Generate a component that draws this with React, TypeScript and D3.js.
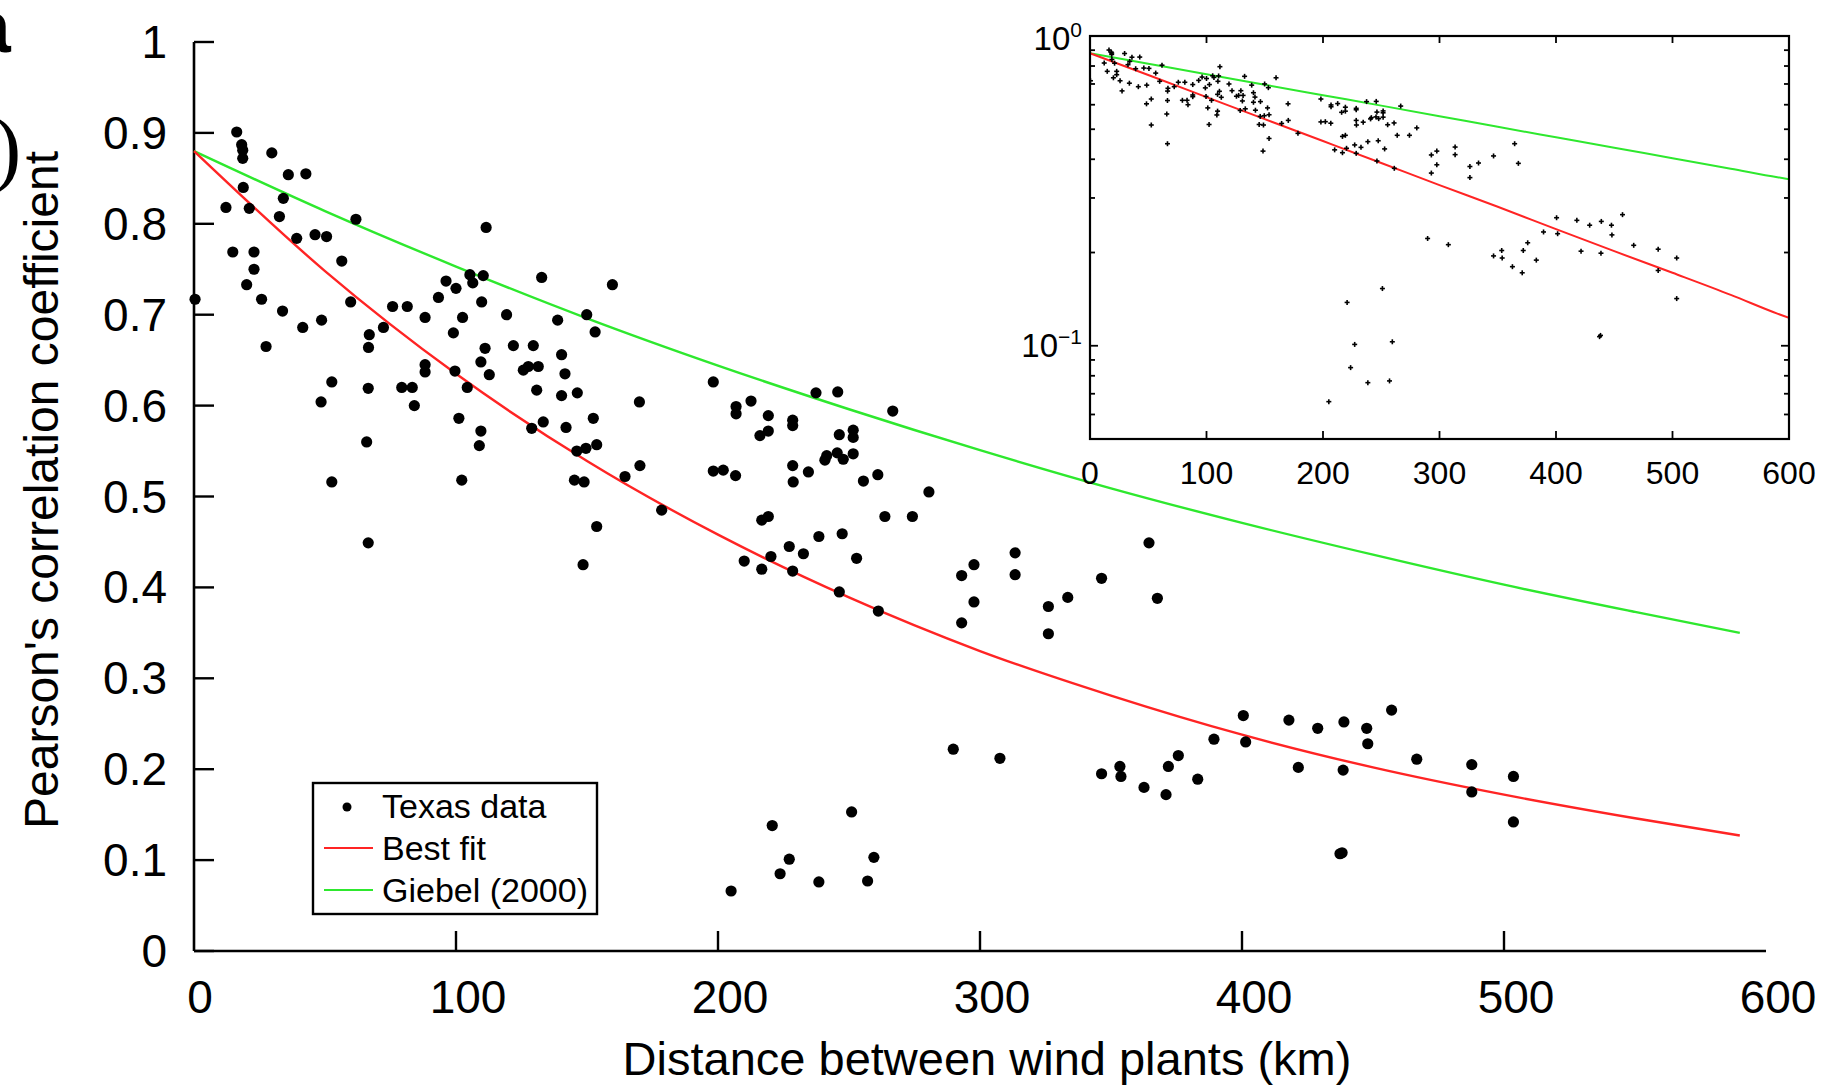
import React from 'react';
import * as d3 from 'd3';

// Texas data: [distance between wind plants (km), Pearson's correlation coefficient]
const texasNear: [number, number][] = [
  [16.3, 0.901], [18.2, 0.887], [18.6, 0.881], [18.6, 0.872], [29.7, 0.878], [36.0, 0.854], [42.7, 0.855],
  [18.8, 0.840], [34.1, 0.828], [12.2, 0.818], [21.1, 0.817], [32.6, 0.808], [61.8, 0.805], [39.2, 0.784],
  [46.2, 0.788], [50.6, 0.786], [14.8, 0.769], [22.9, 0.769], [22.9, 0.750], [20.1, 0.733], [56.4, 0.759],
  [25.8, 0.717], [0.4, 0.717], [33.8, 0.704], [41.5, 0.686], [48.7, 0.694], [27.5, 0.665], [59.8, 0.714],
  [72.3, 0.686], [66.9, 0.678], [66.6, 0.664], [75.8, 0.709], [81.4, 0.709], [88.2, 0.697], [93.3, 0.719],
  [96.2, 0.737], [100.0, 0.729], [105.3, 0.744], [106.4, 0.735], [110.4, 0.743], [111.5, 0.796], [102.5, 0.697],
  [109.8, 0.714], [119.3, 0.700], [132.7, 0.741], [138.8, 0.694], [149.9, 0.700], [153.1, 0.681], [159.7, 0.733],
  [99.0, 0.680], [111.1, 0.663], [121.9, 0.666], [129.5, 0.666], [109.5, 0.648], [140.3, 0.656], [112.7, 0.634],
  [125.7, 0.639], [131.4, 0.643], [127.6, 0.643], [141.6, 0.635], [88.2, 0.645], [88.2, 0.637], [99.6, 0.638],
  [130.8, 0.617], [140.3, 0.611], [146.3, 0.614], [104.3, 0.620], [79.3, 0.620], [83.3, 0.620], [66.5, 0.619],
  [52.6, 0.626], [84.1, 0.600], [48.5, 0.604], [152.4, 0.586], [128.9, 0.575], [133.3, 0.582], [142.0, 0.576],
  [101.1, 0.586], [109.5, 0.572], [108.9, 0.556], [146.1, 0.550], [149.6, 0.553], [153.7, 0.557], [164.5, 0.522],
  [145.2, 0.518], [148.9, 0.516], [102.2, 0.518], [65.9, 0.560], [52.6, 0.516], [66.5, 0.449], [153.7, 0.467],
  [148.5, 0.425],
];

const texasMid: [number, number][] = [
  [170.0, 0.604], [198.2, 0.626], [206.9, 0.599], [206.9, 0.591], [212.6, 0.605], [219.2, 0.589], [219.2, 0.572],
  [216.0, 0.567], [228.5, 0.584], [228.5, 0.578], [237.4, 0.614], [245.7, 0.615], [266.7, 0.594], [246.3, 0.568],
  [251.6, 0.573], [251.6, 0.565], [241.5, 0.545], [240.8, 0.540], [245.5, 0.548], [247.8, 0.541], [251.6, 0.547],
  [170.2, 0.534], [198.2, 0.528], [202.0, 0.529], [206.7, 0.523], [228.5, 0.534], [228.7, 0.516], [234.5, 0.527],
  [255.5, 0.517], [261.0, 0.524], [280.5, 0.505], [178.5, 0.485], [216.7, 0.474], [219.2, 0.478], [263.7, 0.478],
  [274.2, 0.478], [238.5, 0.456], [247.4, 0.459], [227.2, 0.445], [232.6, 0.437], [220.2, 0.434], [210.0, 0.429],
  [216.7, 0.420], [228.5, 0.418], [252.9, 0.432], [246.3, 0.395], [261.2, 0.374], [313.4, 0.438], [297.7, 0.425],
  [293.0, 0.413], [313.4, 0.414], [297.7, 0.384], [293.0, 0.361], [326.1, 0.379], [326.1, 0.349], [289.8, 0.222],
  [307.6, 0.212], [251.0, 0.153], [220.7, 0.138], [227.2, 0.101], [223.7, 0.085], [259.5, 0.103], [238.5, 0.076],
  [257.1, 0.077], [205.0, 0.066],
];

const texasFar: [number, number][] = [
  [333.5, 0.389], [346.4, 0.410], [364.5, 0.449], [367.7, 0.388], [346.4, 0.195], [353.4, 0.203], [353.8, 0.192],
  [362.6, 0.180], [371.0, 0.172], [371.9, 0.203], [375.7, 0.215], [383.1, 0.189], [389.3, 0.233], [400.5, 0.259],
  [401.4, 0.230], [417.9, 0.254], [421.5, 0.202], [428.9, 0.245], [438.9, 0.252], [438.6, 0.199], [447.6, 0.245],
  [448.0, 0.228], [457.1, 0.265], [437.4, 0.107], [438.2, 0.108], [466.7, 0.211], [487.7, 0.205], [487.7, 0.175],
  [503.6, 0.192], [503.6, 0.142],
];

// Curves
const bestFit: [number, number][] = [
  [0, 0.880], [50, 0.748], [100, 0.635], [150, 0.539], [200, 0.458], [250, 0.389], [300, 0.330],
  [350, 0.281], [400, 0.238], [450, 0.202], [500, 0.172], [550, 0.146], [590, 0.127], [600, 0.123],
];
const giebel: [number, number][] = [
  [0, 0.880], [50, 0.814], [100, 0.753], [150, 0.696], [200, 0.644], [250, 0.596], [300, 0.551],
  [350, 0.509], [400, 0.471], [450, 0.436], [500, 0.403], [550, 0.373], [590, 0.350], [600, 0.345],
];

const yTickValues = [0, 0.1, 0.2, 0.3, 0.4, 0.5, 0.6, 0.7, 0.8, 0.9, 1];
const xTickValues = [0, 100, 200, 300, 400, 500, 600];
const insetMinorTicks = [0.06, 0.07, 0.08, 0.09, 0.2, 0.3, 0.4, 0.5, 0.6, 0.7, 0.8, 0.9];

const SANS = "'Liberation Sans', Arial, Helvetica, sans-serif";

export default function App() {
  const W = 1821;
  const H = 1088;
  const x = d3.scaleLinear().domain([0, 600]).range([194, 1766]);
  const y = d3.scaleLinear().domain([0, 1]).range([951, 42]);
  const xi = d3.scaleLinear().domain([0, 600]).range([1090, 1789]);
  const yi = d3.scaleLog().domain([0.05, 1]).range([439, 36]);

  const all = [...texasNear, ...texasMid, ...texasFar];

  const lineMain = d3.line<[number, number]>().x(d => x(d[0])).y(d => y(d[1])).curve(d3.curveMonotoneX);
  const lineInset = d3.line<[number, number]>().x(d => xi(d[0])).y(d => yi(d[1])).curve(d3.curveMonotoneX);

  const mainFit = bestFit.filter(d => d[0] <= 590);
  const mainGiebel = giebel.filter(d => d[0] <= 590);

  const fmt = (v: number) => (v === 0 ? '0' : v === 1 ? '1' : d3.format('.1f')(v));

  return (
    <svg width={W} height={H} style={{ position: 'absolute', left: 0, top: 0, display: 'block', background: '#fff' }}>
      <rect x={0} y={0} width={W} height={H} fill="#fff" />
      {/* cropped panel marks */}
      <text x={-31} y={52} fontFamily={SANS} fontWeight="bold" fontSize={75} fill="#000">a</text>
      <text x={-7} y={176} fontFamily="'Liberation Serif', 'Times New Roman', serif" fontSize={85} fill="#000">)</text>

      {/* main axes */}
      <line x1={x(0)} x2={x(600)} y1={y(0)} y2={y(0)} stroke="#000" strokeWidth={2.6} />
      <line x1={x(0)} x2={x(0)} y1={y(0)} y2={y(1)} stroke="#000" strokeWidth={2.6} />
      {yTickValues.map(v => (
        <g key={'yt' + v}>
          <line x1={x(0)} x2={x(0) + 20} y1={y(v)} y2={y(v)} stroke="#000" strokeWidth={2.4} />
          <text x={167} y={y(v) + 16} textAnchor="end" fontFamily={SANS} fontSize={46} fill="#000">{fmt(v)}</text>
        </g>
      ))}
      {xTickValues.map(v => (
        <g key={'xt' + v}>
          {v > 0 && v < 600 && (
            <line x1={x(v)} x2={x(v)} y1={y(0)} y2={y(0) - 20} stroke="#000" strokeWidth={2.4} />
          )}
          <text x={x(v) + (v === 0 ? 6 : 12)} y={1013} textAnchor="middle" fontFamily={SANS} fontSize={46} fill="#000">{v}</text>
        </g>
      ))}
      <text x={987} y={1075} textAnchor="middle" fontFamily={SANS} fontSize={47} fill="#000">Distance between wind plants (km)</text>
      <text transform="translate(58,490) rotate(-90)" textAnchor="middle" fontFamily={SANS} fontSize={48} fill="#000">Pearson's correlation coefficient</text>

      {/* fit curves */}
      <path d={lineMain(mainGiebel) || ''} fill="none" stroke="#2ee82e" strokeWidth={2.4} />
      <path d={lineMain(mainFit) || ''} fill="none" stroke="#ff2424" strokeWidth={2.4} />

      {/* data */}
      {all.map((d, i) => (
        <circle key={'p' + i} cx={x(d[0])} cy={y(d[1])} r={5.6} fill="#000" />
      ))}

      {/* legend */}
      <rect x={313} y={783} width={284} height={131} fill="#fff" stroke="#000" strokeWidth={2.4} />
      <circle cx={347} cy={807} r={4.5} fill="#000" />
      <line x1={324} x2={373} y1={848} y2={848} stroke="#ff2424" strokeWidth={2.2} />
      <line x1={324} x2={373} y1={890} y2={890} stroke="#2ee82e" strokeWidth={2.2} />
      <text x={382} y={818} fontFamily={SANS} fontSize={34} fill="#000">Texas data</text>
      <text x={382} y={860} fontFamily={SANS} fontSize={34} fill="#000">Best fit</text>
      <text x={382} y={902} fontFamily={SANS} fontSize={34} fill="#000">Giebel (2000)</text>

      {/* inset */}
      <defs>
        <clipPath id="insetClip">
          <rect x={1090} y={36} width={699} height={403} />
        </clipPath>
      </defs>
      <rect x={1090} y={36} width={699} height={403} fill="#fff" />
      <g clipPath="url(#insetClip)">
        <path d={lineInset(giebel) || ''} fill="none" stroke="#2ee82e" strokeWidth={2} />
        <path d={lineInset(bestFit) || ''} fill="none" stroke="#ff2424" strokeWidth={2} />
        {all.map((d, i) => {
          const cx = xi(d[0]);
          const cy = yi(d[1]);
          return (
            <g key={'ip' + i}>
              <line x1={cx - 2.5} x2={cx + 2.5} y1={cy} y2={cy} stroke="#000" strokeWidth={1.6} />
              <line x1={cx} x2={cx} y1={cy - 2.5} y2={cy + 2.5} stroke="#000" strokeWidth={1.6} />
            </g>
          );
        })}
      </g>
      {xTickValues.filter(v => v > 0 && v < 600).map(v => (
        <g key={'ixt' + v}>
          <line x1={xi(v)} x2={xi(v)} y1={36} y2={43} stroke="#000" strokeWidth={1.8} />
          <line x1={xi(v)} x2={xi(v)} y1={439} y2={431} stroke="#000" strokeWidth={1.8} />
        </g>
      ))}
      {[0.1].map(v => (
        <g key={'iyt' + v}>
          <line x1={1090} x2={1098} y1={yi(v)} y2={yi(v)} stroke="#000" strokeWidth={1.8} />
          <line x1={1789} x2={1781} y1={yi(v)} y2={yi(v)} stroke="#000" strokeWidth={1.8} />
        </g>
      ))}
      {insetMinorTicks.map(v => (
        <g key={'imt' + v}>
          <line x1={1090} x2={1095} y1={yi(v)} y2={yi(v)} stroke="#000" strokeWidth={1.8} />
          <line x1={1789} x2={1784} y1={yi(v)} y2={yi(v)} stroke="#000" strokeWidth={1.8} />
        </g>
      ))}
      <rect x={1090} y={36} width={699} height={403} fill="none" stroke="#000" strokeWidth={2.2} />
      {xTickValues.map(v => (
        <text key={'ixl' + v} x={xi(v)} y={484} textAnchor="middle" fontFamily={SANS} fontSize={32} fill="#000">{v}</text>
      ))}
      <text x={1082} y={50} textAnchor="end" fontFamily={SANS} fill="#000">
        <tspan fontSize={33}>10</tspan>
        <tspan fontSize={21} dy={-13}>0</tspan>
      </text>
      <text x={1082} y={357} textAnchor="end" fontFamily={SANS} fill="#000">
        <tspan fontSize={33}>10</tspan>
        <tspan fontSize={21} dy={-13}>−1</tspan>
      </text>
    </svg>
  );
}
